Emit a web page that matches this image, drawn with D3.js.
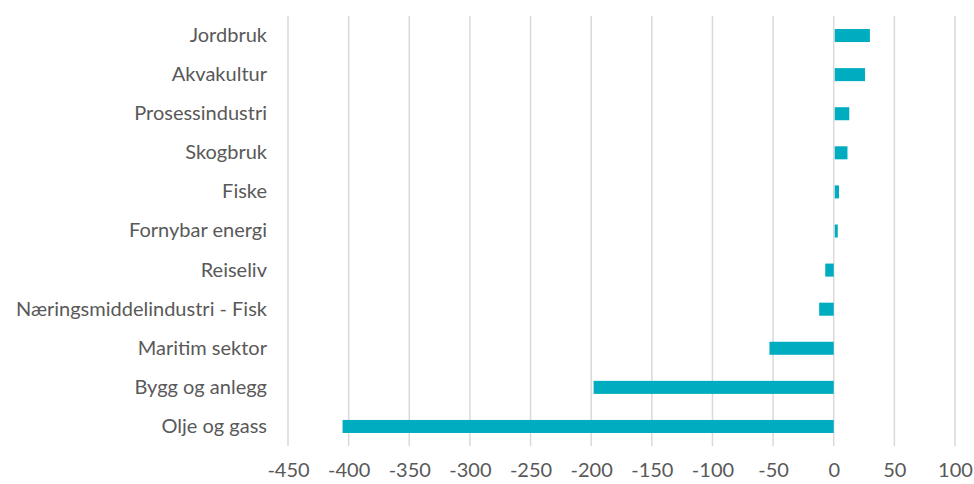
<!DOCTYPE html>
<html>
<head>
<meta charset="utf-8">
<script src="https://cdn.jsdelivr.net/npm/d3@7"></script>
<style>
  body { margin: 0; background: #fff; }
  svg { display: block; }
  text { font-family: Lato, "Open Sans", sans-serif; fill: #595959; }
</style>
</head>
<body>
<svg id="chart" width="974" height="484"></svg>
<script>
const categories = ["Jordbruk", "Akvakultur", "Prosessindustri", "Skogbruk", "Fiske", "Fornybar energi", "Reiseliv", "Næringsmiddelindustri - Fisk", "Maritim sektor", "Bygg og anlegg", "Olje og gass"];
const values = [29, 25, 12, 10.5, 3.5, 2.5, -7, -12, -53, -198, -405];
const tickValues = [-450, -400, -350, -300, -250, -200, -150, -100, -50, 0, 50, 100];

const svg = d3.select("#chart");
const margin = { left: 288, right: 19, top: 16, bottom: 38 };
const W = 974, H = 484;
const fontSize = "20px";

const x = d3.scaleLinear().domain([-450, 100]).range([margin.left, W - margin.right]);
const y = d3.scaleBand().domain(categories).range([margin.top, H - margin.bottom]).paddingInner(0.667).paddingOuter(0.333);

// gridlines
svg.append("g").selectAll("line").data(tickValues).join("line")
  .attr("x1", d => x(d)).attr("x2", d => x(d))
  .attr("y1", margin.top).attr("y2", H - margin.bottom)
  .attr("stroke", "#d9d9d9").attr("stroke-width", 1.5);

// bars
svg.append("g").selectAll("rect").data(values).join("rect")
  .attr("x", d => x(Math.min(0, d)) + (d > 0 ? 1 : 0))
  .attr("width", d => Math.abs(x(d) - x(0)))
  .attr("y", (d, i) => y(categories[i]))
  .attr("height", y.bandwidth())
  .attr("fill", "#00ACBF");

// x axis tick labels (hyphen minus as in reference)
const xAxis = d3.axisBottom(x).tickValues(tickValues).tickSize(0).tickPadding(0).tickFormat(d => String(d));
const gx = svg.append("g").attr("transform", `translate(0, ${H - margin.bottom})`).call(xAxis);
gx.select(".domain").remove();
gx.selectAll("text").attr("dy", "0.71em").style("font-size", fontSize).style("font-family", "Lato, 'Open Sans', sans-serif").attr("fill", "#595959").attr("y", 17);

// category labels
const yAxis = d3.axisLeft(y).tickSize(0).tickPadding(21);
const gy = svg.append("g").attr("transform", `translate(${margin.left}, 0)`).call(yAxis);
gy.select(".domain").remove();
gy.selectAll("text").style("font-size", fontSize).style("font-family", "Lato, 'Open Sans', sans-serif").attr("fill", "#595959");
</script>
</body>
</html>
